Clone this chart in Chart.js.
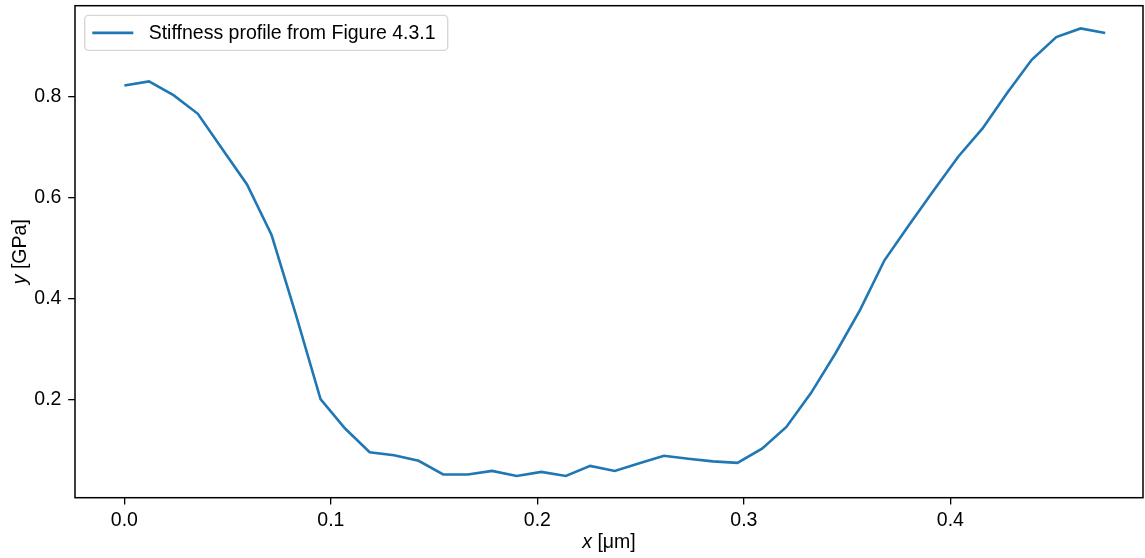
<!DOCTYPE html>
<html>
<head>
<meta charset="utf-8">
<script src="https://cdn.jsdelivr.net/npm/chart.js@4.4.1/dist/chart.umd.min.js"></script>
<style>
  html, body { margin: 0; padding: 0; background: #fff; }
  #wrap { width: 1145px; height: 558px; }
</style>
</head>
<body>
<div id="wrap"><canvas id="stiffChart" width="1145" height="558"></canvas></div>
<script>
// Datos
const xValues = [0, 0.0119, 0.0238, 0.0356, 0.0475, 0.0594, 0.0713, 0.0831, 0.095, 0.1069,
  0.1188, 0.1306, 0.1425, 0.1544, 0.1663, 0.1781, 0.19, 0.2019, 0.2138, 0.2256,
  0.2375, 0.2494, 0.2613, 0.2731, 0.285, 0.2969, 0.3088, 0.3206, 0.3325, 0.3444,
  0.3563, 0.3681, 0.38, 0.3919, 0.4038, 0.4156, 0.4275, 0.4394, 0.4513, 0.4631, 0.475];
const stiffness = [0.822, 0.830, 0.803, 0.766, 0.696, 0.626, 0.526, 0.368, 0.201, 0.143,
  0.096, 0.090, 0.079, 0.052, 0.052, 0.059, 0.049, 0.057, 0.049, 0.069,
  0.059, 0.074, 0.089, 0.083, 0.078, 0.075, 0.103, 0.146, 0.213, 0.292,
  0.378, 0.476, 0.546, 0.614, 0.681, 0.737, 0.807, 0.873, 0.918, 0.935, 0.926];
const xTicks = [0, 0.1, 0.2, 0.3, 0.4];
const yTicks = [0.2, 0.4, 0.6, 0.8];
const seriesLabel = 'Stiffness profile from Figure 4.3.1';

const FONT = '"Liberation Sans", Arial, sans-serif';
const FSIZE = 19.5;
const BLUE = '#1f77b4';

// Marco, leyenda y títulos de ejes al estilo matplotlib
const decorPlugin = {
    id: 'decor',
    afterDraw(chart) {
        const ctx = chart.ctx;
        const a = chart.chartArea;
        ctx.save();
        ctx.strokeStyle = '#000';
        ctx.lineWidth = 1.5;
        ctx.strokeRect(a.left, a.top, a.right - a.left, a.bottom - a.top);

        // leyenda
        const lx = a.left + 9.7, ly = a.top + 9.7, lw = 363, lh = 35;
        ctx.beginPath();
        ctx.roundRect(lx, ly, lw, lh, 4);
        ctx.fillStyle = 'rgba(255,255,255,0.8)';
        ctx.fill();
        ctx.strokeStyle = 'rgba(204,204,204,0.8)';
        ctx.lineWidth = 1.4;
        ctx.stroke();
        ctx.beginPath();
        ctx.moveTo(lx + 7.6, ly + lh / 2);
        ctx.lineTo(lx + 48.6, ly + lh / 2);
        ctx.strokeStyle = BLUE;
        ctx.lineWidth = 2.6;
        ctx.stroke();
        ctx.fillStyle = '#000';
        ctx.font = FSIZE + 'px ' + FONT;
        ctx.textBaseline = 'middle';
        ctx.textAlign = 'left';
        ctx.fillText(chart.data.datasets[0].label, lx + 64, ly + lh / 2 + 0.5);

        // título eje x: "x [μm]"
        const cx = (a.left + a.right) / 2;
        ctx.font = 'italic ' + FSIZE + 'px ' + FONT;
        const w1 = ctx.measureText('x').width;
        ctx.font = FSIZE + 'px ' + FONT;
        const w2 = ctx.measureText(' [μm]').width;
        let sx = cx - (w1 + w2) / 2;
        ctx.textBaseline = 'middle';
        ctx.font = 'italic ' + FSIZE + 'px ' + FONT;
        ctx.fillText('x', sx, 543);
        ctx.font = FSIZE + 'px ' + FONT;
        ctx.fillText(' [μm]', sx + w1, 543);

        // título eje y: "y [GPa]"
        ctx.translate(21, (a.top + a.bottom) / 2);
        ctx.rotate(-Math.PI / 2);
        ctx.font = 'italic ' + FSIZE + 'px ' + FONT;
        const v1 = ctx.measureText('y').width;
        ctx.font = FSIZE + 'px ' + FONT;
        const v2 = ctx.measureText(' [GPa]').width;
        sx = -(v1 + v2) / 2;
        ctx.font = 'italic ' + FSIZE + 'px ' + FONT;
        ctx.fillText('y', sx, 0);
        ctx.font = FSIZE + 'px ' + FONT;
        ctx.fillText(' [GPa]', sx + v1, 0);
        ctx.restore();
    }
};

const ctx = document.getElementById('stiffChart').getContext('2d');
new Chart(ctx, {
    type: 'line',
    data: {
        datasets: [{
            label: seriesLabel,
            data: xValues.map((x, i) => ({ x: x, y: stiffness[i] })),
            borderColor: BLUE,
            borderWidth: 2.6,
            pointRadius: 0,
            tension: 0,
            fill: false
        }]
    },
    options: {
        responsive: false,
        animation: false,
        layout: { padding: { top: 5.7, right: 2, left: 0, bottom: 0 } },
        plugins: {
            legend: { display: false },
            tooltip: { enabled: false }
        },
        scales: {
            x: {
                type: 'linear',
                min: -0.0239,
                max: 0.4933,
                afterBuildTicks: (s) => { s.ticks = xTicks.map(v => ({ value: v })); },
                afterFit: (s) => { s.height = 60.3; s.paddingLeft = 0; s.paddingRight = 0; },
                grid: { drawOnChartArea: false, drawTicks: true, tickLength: 6.8, color: '#000', lineWidth: 1.3 },
                border: { display: false },
                ticks: {
                    color: '#000',
                    padding: 4,
                    maxRotation: 0,
                    font: { family: FONT, size: FSIZE },
                    callback: (v) => v.toFixed(1)
                }
            },
            y: {
                type: 'linear',
                min: 0.006,
                max: 0.980,
                afterBuildTicks: (s) => { s.ticks = yTicks.map(v => ({ value: v })); },
                afterFit: (s) => { s.width = 75; s.paddingTop = 0; s.paddingBottom = 0; },
                grid: { drawOnChartArea: false, drawTicks: true, tickLength: 6.8, color: '#000', lineWidth: 1.3 },
                border: { display: false },
                ticks: {
                    color: '#000',
                    padding: 6.8,
                    font: { family: FONT, size: FSIZE },
                    callback: (v) => v.toFixed(1)
                }
            }
        }
    },
    plugins: [decorPlugin]
});
</script>
</body>
</html>
